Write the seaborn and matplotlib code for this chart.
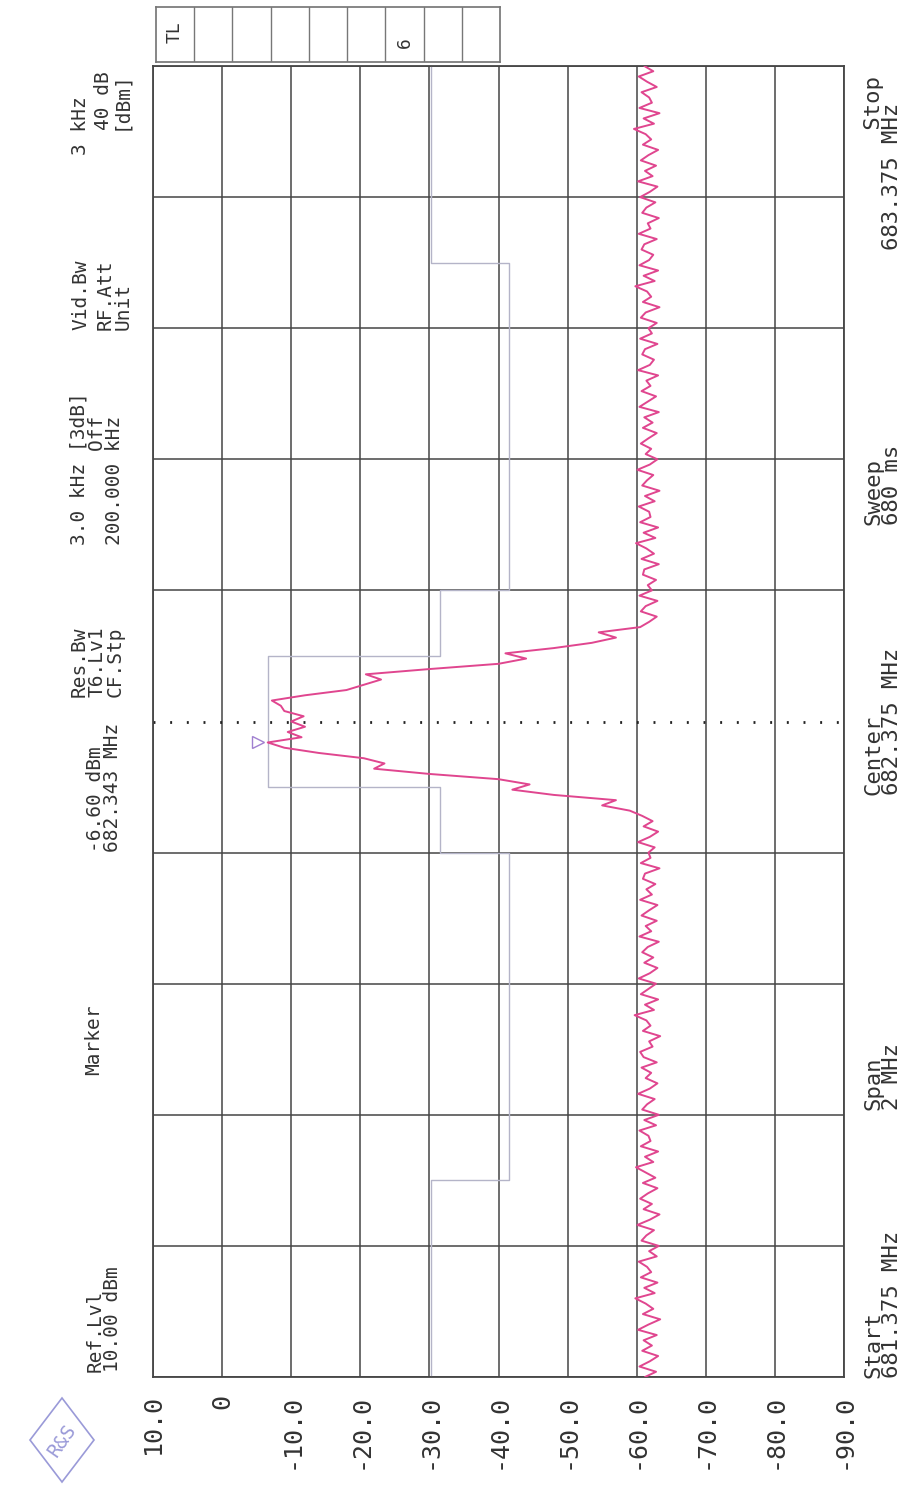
import numpy as np
import pandas as pd
import seaborn as sns
import matplotlib.pyplot as plt
from matplotlib import transforms
from matplotlib.patches import Polygon

# sweep: 681.375 .. 683.375 MHz, 251 points
f_start, f_stop = 681.375, 683.375
n_points = 251

noise_low = [
    -61.2, -62.8, -60.4, -61.9, -63.1, -60.8, -62.2, -61.0, -62.9, -60.2,
    -61.7, -63.4, -60.9, -62.4, -61.3, -59.8, -62.6, -61.1, -63.0, -60.6,
    -62.1, -61.5, -60.3, -62.9, -61.8, -63.2, -60.7, -61.4, -62.5, -60.1,
    -61.9, -63.3, -61.0, -62.2, -60.5, -61.6, -63.0, -60.9, -62.7, -61.3,
    -59.9, -62.4, -61.2, -63.1, -60.6, -62.0, -61.7, -60.4, -62.8, -61.1,
    -63.2, -60.8, -61.5, -62.6, -60.2, -61.9, -63.0, -61.3, -62.1, -60.7,
    -62.9, -61.0, -60.5, -62.3, -61.8, -63.4, -60.9, -62.0, -61.4, -59.7,
    -62.5, -61.2, -63.1, -60.6, -61.7, -62.8, -60.3, -61.9, -63.0, -61.1,
    -62.4, -60.8, -61.6, -63.2, -60.4, -62.1, -61.3, -62.9, -60.7, -61.8,
    -63.0, -60.5, -62.2, -61.4, -62.7, -60.9, -61.2, -63.3, -60.6, -62.0,
    -61.7, -62.6, -60.2, -61.9, -63.1, -61.0, -62.3, -60.8,
]
peak = [
    -59.0, -55.0, -57.0, -48.0, -42.0, -44.5, -40.0, -30.0, -22.0, -23.5,
    -20.5, -14.0, -9.0, -6.6, -11.5, -9.5, -12.0, -10.0, -11.8, -9.0,
    -8.5, -7.2, -12.0, -18.0, -20.5, -23.0, -20.8, -30.0, -40.0, -44.0,
    -41.0, -48.0, -53.5, -57.0, -54.5, -60.5,
]
noise_high = [
    -61.8, -62.9, -60.6, -61.3, -63.0, -60.4, -62.2, -61.6, -62.8, -60.9,
    -61.1, -63.2, -60.7, -62.5, -61.4, -59.9, -62.7, -61.0, -63.1, -60.5,
    -62.0, -61.8, -60.3, -62.6, -61.2, -63.3, -60.8, -61.5, -62.4, -60.1,
    -61.9, -63.0, -61.3, -62.1, -60.6, -61.7, -62.9, -60.9, -62.3, -61.1,
    -63.2, -60.4, -61.6, -62.8, -60.7, -62.0, -61.4, -63.1, -60.2, -61.9,
    -62.5, -60.8, -61.2, -63.0, -60.5, -62.2, -61.7, -62.9, -60.6, -61.3,
    -63.3, -60.9, -62.1, -61.5, -59.8, -62.6, -61.0, -63.1, -60.4, -61.8,
    -62.4, -60.7, -61.1, -62.9, -60.3, -62.0, -61.6, -63.2, -60.8, -61.4,
    -62.7, -60.5, -61.9, -63.0, -60.2, -62.3, -61.2, -62.8, -60.6, -61.7,
    -63.1, -60.9, -62.1, -61.3, -59.6, -62.5, -61.0, -63.3, -60.4, -62.2,
    -61.8, -60.7, -62.9, -61.5, -60.3, -62.4, -61.1,
]

limit_db = [-30.3, -30.3, -41.5, -41.5, -31.6, -31.6, -6.6, -6.6,
            -31.6, -31.6, -41.5, -41.5, -30.3, -30.3]
limit_f = [681.375, 681.675, 681.675, 682.175, 682.175, 682.275, 682.275,
           682.475, 682.475, 682.575, 682.575, 683.075, 683.075, 683.375]

marker_db = -6.60
marker_f = 682.343
center_f = 682.375

db_ticks = [10, 0, -10, -20, -30, -40, -50, -60, -70, -80, -90]
db_labels = ['10.0', '0', '-10.0', '-20.0', '-30.0', '-40.0', '-50.0',
             '-60.0', '-70.0', '-80.0', '-90.0']

# (text, x centre px, y px, anchor)
header = [
    ('Ref.Lvl\n10.00 dBm', 104, 1372, 'bottom'),
    ('Marker', 94, 1075, 'bottom'),
    ('-6.60 dBm\n682.343 MHz', 104, 852, 'bottom'),
    ('Res.Bw\nT6.Lv1\nCF.Stp', 97, 697, 'bottom'),
    ('3.0 kHz [3dB]\n        Off\n200.000 kHz', 97, 545, 'bottom'),
    ('Vid.Bw', 81, 330, 'bottom'),
    ('RF.Att\nUnit', 114, 330, 'bottom'),
    ('3 kHz', 81, 155, 'bottom'),
    ('40 dB\n[dBm]', 112, 130, 'bottom'),
]
footer = [
    ('Start\n681.375 MHz', 883, 1378, 'bottom'),
    ('Span\n2 MHz', 883, 1110, 'bottom'),
    ('Center\n682.375 MHz', 883, 795, 'bottom'),
    ('Sweep\n680 ms', 883, 525, 'bottom'),
    ('         Stop\n683.375 MHz', 883, 250, 'bottom'),
]

W, H = 922, 1486
FONT = ['DejaVu Sans Mono']
TXT = '#333333'
GRID = '#454545'


def px_text(fig, s, x, y, va, size=14):
    fig.text(x / W, 1 - y / H, s, rotation=90, ha='center', va=va,
             fontsize=size, color=TXT, family=FONT, linespacing=0.92,
             multialignment='left')


def main():
    sns.set_theme(style='white')
    plt.rcParams['font.family'] = FONT

    level = noise_low + peak + noise_high
    freq = np.linspace(f_start, f_stop, n_points)
    df = pd.DataFrame({'freq': freq, 'level': level})

    fig = plt.figure(figsize=(W / 100, H / 100), dpi=100)
    ax = fig.add_axes([153 / W, 109 / H, 691 / W, 1311 / H])

    ax.set_xlim(10, -90)
    ax.set_ylim(f_start, f_stop)
    fgrid = [f_start + 0.2 * k for k in range(11) if k != 5]
    ax.set_xticks(db_ticks)
    ax.set_xticklabels(db_labels, rotation=90, fontsize=18, color=TXT)
    ax.set_yticks(fgrid)
    ax.set_yticklabels([])
    ax.tick_params(length=0, pad=12)
    ax.grid(True, color=GRID, lw=1.1)
    for sp in ax.spines.values():
        sp.set_color(GRID)
        sp.set_linewidth(1.3)

    # centre line, dotted
    ax.axhline(center_f, color='#222222', lw=2.0, dashes=(0.7, 5.3))

    # limit line
    ax.plot(limit_db, limit_f, color='#b4b4c8', lw=1.0, zorder=2)

    sns.lineplot(data=df, x='level', y='freq', sort=False, estimator=None,
                 color='#e0468f', lw=1.4, ax=ax, zorder=3)
    ax.set_xlabel('')
    ax.set_ylabel('')

    shift = transforms.offset_copy(ax.transData, fig=fig, x=-10, y=0,
                                   units='dots')
    ax.plot([marker_db], [marker_f], marker='>', ms=9, mfc='white',
            mec='#a080d0', mew=1.0, ls='', transform=shift, zorder=4)

    # TL box
    tl = fig.add_axes([156 / W, 1 - 62 / H, 344 / W, 55 / H])
    tl.set_xlim(0, 9)
    tl.set_ylim(0, 1)
    tl.set_xticks([])
    tl.set_yticks([])
    for k in range(1, 9):
        tl.axvline(k, color='#777777', lw=1.0)
    for sp in tl.spines.values():
        sp.set_color('#777777')
    tl.text(0.5, 0.55, 'TL', rotation=90, ha='center', va='center',
            fontsize=13, color=TXT)
    tl.text(6.5, 0.35, '6', rotation=90, ha='center', va='center',
            fontsize=13, color=TXT)

    for s, x, y, va in header:
        px_text(fig, s, x, y, va)
    for s, x, y, va in footer:
        px_text(fig, s, x, y, va, size=16)

    # R&S logo
    cx, cy = 62 / W, 1 - 1440 / H
    dx, dy = 32 / W, 42 / H
    fig.patches.append(Polygon([(cx - dx, cy), (cx, cy + dy), (cx + dx, cy),
                                (cx, cy - dy)], closed=True, fill=False,
                               ec='#9a9ad8', lw=1.2,
                               transform=fig.transFigure))
    fig.text(cx, cy, 'R&S', rotation=55, ha='center', va='center',
             fontsize=14, color='#9a9ad8')

    plt.savefig('out.png', dpi=100)


if __name__ == '__main__':
    main()
